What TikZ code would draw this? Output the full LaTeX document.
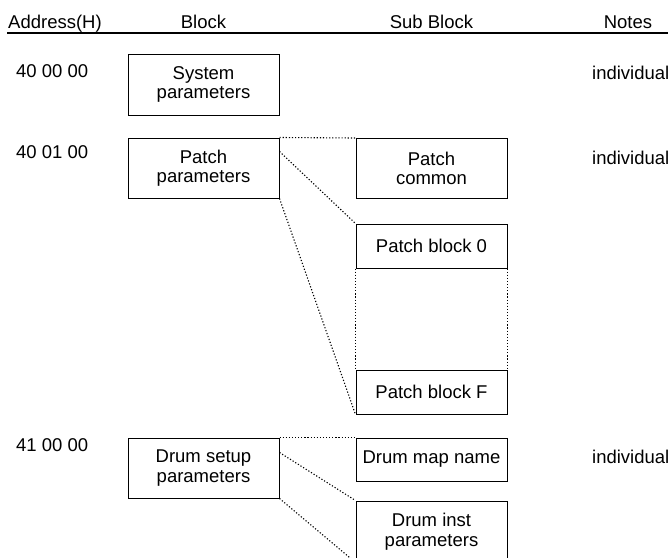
\documentclass[tikz,border=0pt]{standalone}
\usepackage{fontspec}
\setmainfont{Liberation Sans}
\usetikzlibrary{positioning}

\begin{document}
\begin{tikzpicture}[
    x=1pt, y=-1pt,
    blk/.style={rectangle, draw, line width=1pt, inner sep=0pt, minimum width=151pt, minimum height=#1, align=center, font=\fontsize{18.5}{19.5}\selectfont},
    blk/.default=60pt,
    hdr/.style={font=\fontsize{18.5}{19.5}\selectfont, inner sep=0pt},
    txt/.style={font=\fontsize{18.5}{19.5}\selectfont, inner sep=0pt, anchor=base west},
    link/.style={line width=1.1pt, dash pattern=on 1.2pt off 1.9pt}
]
\useasboundingbox (0,0) rectangle (668,557);
\clip (0,0) rectangle (668,557);

% Header row
\node[hdr, anchor=base west] (haddr) at (8,28) {Address(H)};
\node[hdr, anchor=base] (hblock) at (203.5,28) {Block};
\node[hdr, anchor=base] (hsub) at (431.5,28) {Sub Block};
\node[hdr, anchor=base] (hnotes) at (628,28) {Notes};
\draw[line width=1.8pt] (7,33) -- (668,33);

% Addresses and notes
\node[txt] (a1) at (16,77) {40 00 00};
\node[txt] (a2) at (16,158) {40 01 00};
\node[txt] (a3) at (16,451) {41 00 00};
\node[txt] (n1) at (592,79) {individual};
\node[txt] (n2) at (592,164) {individual};
\node[txt] (n3) at (592,463) {individual};

% Blocks (left)
\node[blk=61pt] (sys) at (203.5,84.5) {System\\parameters};
\node[blk] (patch) at (203.5,168) {Patch\\parameters};
\node[blk] (drum) at (203.5,468) {Drum setup\\parameters};

% Sub blocks (right)
\node[blk] (pcom) at (431.5,168.5) {Patch\\common};
\node[blk=44pt] (pb0) at (431.5,246) {Patch block 0};
\node[blk=44pt] (pbF) at (431.5,392) {Patch block F};
\node[blk=43pt] (dmap) at (431.5,459.5) {Drum map name};
\node[blk=61pt] (dinst) at (431.5,531.5) {Drum inst\\parameters};

% Dotted links
\draw[link] (patch.north east) -- (pcom.north west);
\draw[link] ([yshift=-14pt]patch.north east) -- (pb0.north west);
\draw[link] (patch.south east) -- (pbF.south west);
\draw[link] (pb0.south west) -- (pbF.north west);
\draw[link] (pb0.south east) -- (pbF.north east);
\draw[link] (drum.north east) -- (dmap.north west);
\draw[link] ([yshift=-15pt]drum.north east) -- (dinst.north west);
\draw[link] (drum.south east) -- (dinst.south west);

\end{tikzpicture}
\end{document}
